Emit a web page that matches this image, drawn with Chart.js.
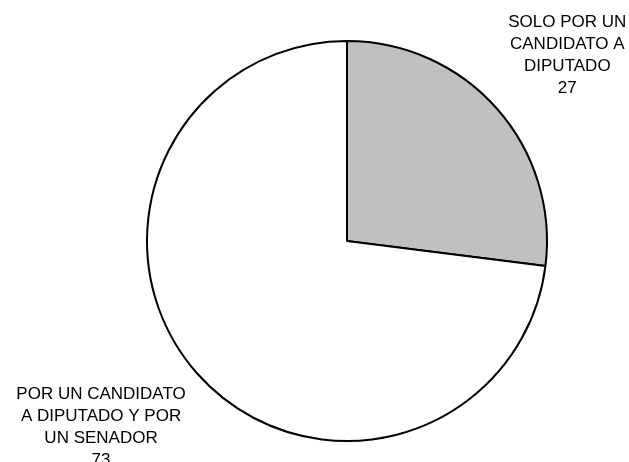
<!DOCTYPE html>
<html>
<head>
<meta charset="utf-8">
<script src="https://cdn.jsdelivr.net/npm/chart.js@4/dist/chart.umd.min.js"></script>
<style>
  html, body { margin: 0; padding: 0; background: #ffffff; }
  #wrap { width: 629px; height: 462px; }
</style>
</head>
<body>
<div id="wrap"><canvas id="myChart"></canvas></div>
<script>
// categories, split into the lines they are printed on
const categories = [
  ['SOLO POR UN', 'CANDIDATO A', 'DIPUTADO'],
  ['POR UN CANDIDATO', 'A DIPUTADO Y POR', 'UN SENADOR']
];
const values = [27, 73];
const colors = ['#c0c0c0', '#ffffff'];

// draws each label just outside its slice, like an "outside end" label
const outsideLabels = {
  id: 'outsideLabels',
  afterDraw(chart) {
    const ctx = chart.ctx;
    const meta = chart.getDatasetMeta(0);
    const lineH = 22;
    ctx.save();
    ctx.font = '17px "Liberation Sans", Arial, sans-serif';
    ctx.fillStyle = '#000000';
    ctx.textAlign = 'center';
    ctx.textBaseline = 'middle';
    meta.data.forEach(function (arc, i) {
      const mid = (arc.startAngle + arc.endAngle) / 2;
      const dx = Math.cos(mid), dy = Math.sin(mid);
      const px = arc.x + (arc.outerRadius + 15) * dx;
      const py = arc.y + (arc.outerRadius + 15) * dy;
      const lines = categories[i].concat([String(values[i])]);
      let w = 0;
      lines.forEach(function (l) { w = Math.max(w, ctx.measureText(l).width); });
      const h = lines.length * lineH;
      const left = dx >= 0 ? px : px - w;
      const top = dy < 0 ? py - h : py;
      lines.forEach(function (l, j) {
        ctx.fillText(l, left + w / 2, top + lineH * j + lineH / 2);
      });
    });
    ctx.restore();
  }
};

function createChart() {
  var ctx = document.getElementById('myChart').getContext('2d');
  var myChart = new Chart(ctx, {
    type: 'pie',
    data: {
      labels: categories.map(function (c) { return c.join(' '); }),
      datasets: [{
        data: values,
        backgroundColor: colors,
        borderColor: '#000000',
        borderWidth: 2
      }]
    },
    options: {
      responsive: true,
      maintainAspectRatio: false,
      animation: false,
      layout: { padding: { left: 65, right: 0, top: 40, bottom: 20 } },
      plugins: {
        legend: { display: false },
        tooltip: { enabled: false }
      }
    },
    plugins: [outsideLabels]
  });
}

createChart();
</script>
</body>
</html>
